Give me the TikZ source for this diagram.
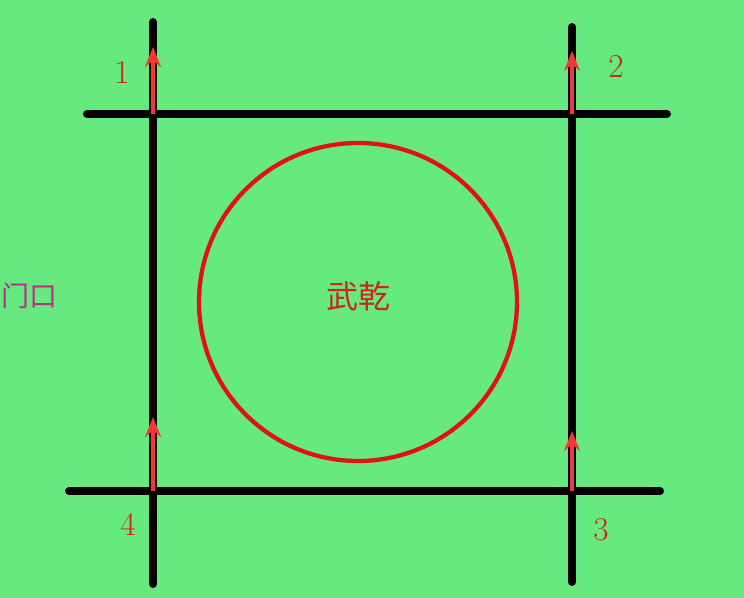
\documentclass[tikz,border=0pt]{standalone}
\usepackage{fontspec}
\newfontfamily\cjk{Noto Sans CJK SC}
\usetikzlibrary{arrows.meta}
\definecolor{grass}{HTML}{66E97E}
\definecolor{wallred}{HTML}{E01212}
\definecolor{arrowred}{HTML}{F0383A}
\definecolor{numred}{HTML}{C8281E}
\definecolor{doorpink}{HTML}{B8308C}
\tikzset{
  road/.style={line width=6pt,line cap=round,black},
  flow/.style={line width=2.6pt,arrowred,-{Stealth[length=15pt,width=12pt]}},
  num/.style={numred,font=\fontsize{25}{28}\selectfont},
}
\begin{document}
\begin{tikzpicture}[x=0.75pt,y=-0.75pt]
     \fill[grass] (0,0) rectangle (744,598);
     \useasboundingbox (0,0) rectangle (744,598);
     % crossings
     \coordinate (c1) at (153,114); \coordinate (c2) at (572,114);
     \coordinate (c3) at (572,491); \coordinate (c4) at (153,491);
     \draw[road] (153,22) -- (153,584);
     \draw[road] (572,27) -- (572,582);
     \draw[road] (87,114) -- (667,114);
     \draw[road] (69,491) -- (660,491);
     \draw[wallred,line width=3.2pt] (358,302) circle (159);
     \node[text=numred,font=\cjk\fontsize{24}{28}\selectfont] (wq) at (358,296) {武乾};
     \node[text=doorpink,font=\cjk\fontsize{21}{26}\selectfont,anchor=west,inner sep=0pt] (door) at (1,296) {门口};
     \coordinate (t1) at (153,47); \coordinate (t2) at (572,51);
     \coordinate (t3) at (572,431); \coordinate (t4) at (153,417);
     \draw[flow] (c1) -- (t1);
     \draw[flow] (c2) -- (t2);
     \draw[flow] (c3) -- (t3);
     \draw[flow] (c4) -- (t4);
     \node[num] (n1) at (122,72) {1};
     \node[num] (n2) at (616,66) {2};
     \node[num] (n3) at (601,530) {3};
     \node[num] (n4) at (128,524) {4};
    \end{tikzpicture}
\end{document}
